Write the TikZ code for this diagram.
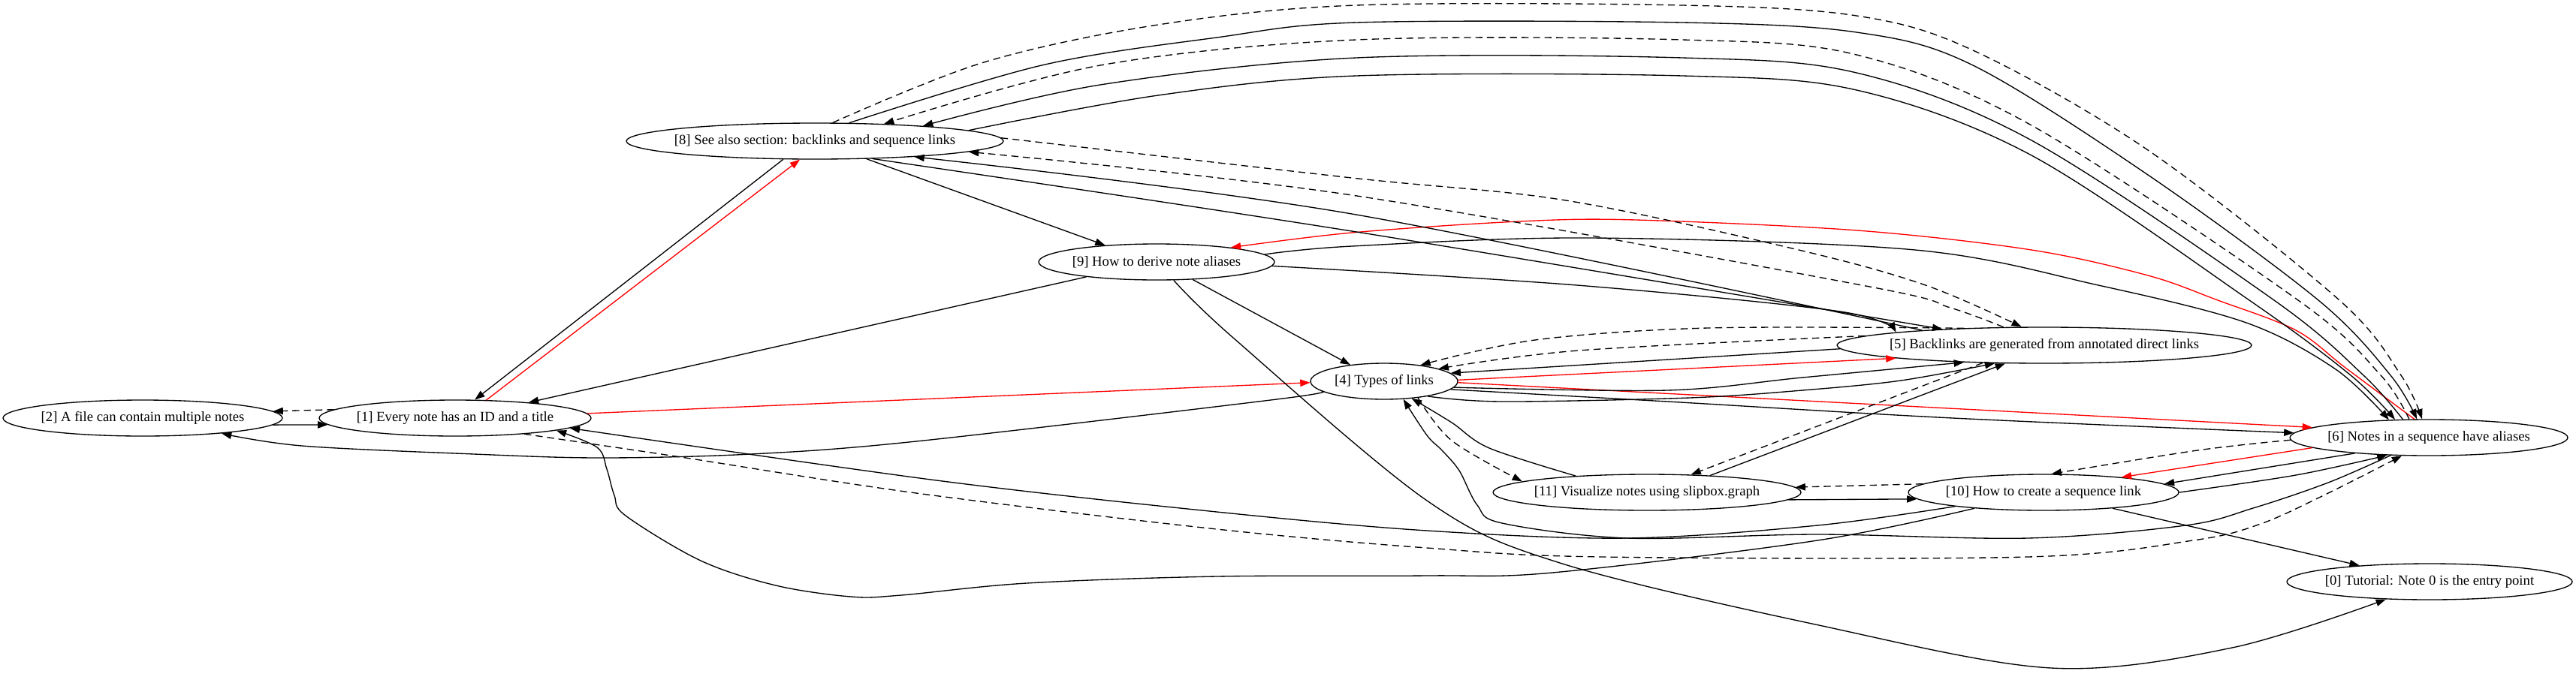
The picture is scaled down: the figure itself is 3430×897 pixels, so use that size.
\documentclass[tikz,border=0pt]{standalone}
\usepackage{fontspec}
\setmainfont{Liberation Serif}
\usetikzlibrary{arrows.meta,shapes.geometric}
\begin{document}
\begin{tikzpicture}[x=0.75pt,y=-0.75pt,
 nd/.style={ellipse,draw,line width=1pt,inner sep=0pt,minimum height=36pt,font=\fontsize{14pt}{16pt}\selectfont},
 ed/.style={line width=1pt,-{Triangle[length=10pt,width=7pt]}},
 dsh/.style={ed,dash pattern=on 7pt off 4.5pt},
 rd/.style={ed,red}]
\useasboundingbox (0,0) rectangle (3430,897);
% nodes
\node[nd,minimum width=279pt]   (n2)  at (190,557)  {\makebox[0pt]{[2] A file can contain multiple notes}};
\node[nd,minimum width=271.5pt] (n1)  at (606,557)  {\makebox[0pt]{[1] Every note has an ID and a title}};
\node[nd,minimum width=376.5pt] (n8)  at (1085,188) {\makebox[0pt]{[8] See also section: backlinks and sequence links}};
\node[nd,minimum width=235.5pt] (n9)  at (1540,349) {\makebox[0pt]{[9] How to derive note aliases}};
\node[nd,minimum width=147pt]   (n4)  at (1843,508) {\makebox[0pt]{[4] Types of links}};
\node[nd,minimum width=414pt]   (n5)  at (2722,460) {\makebox[0pt]{[5] Backlinks are generated from annotated direct links}};
\node[nd,minimum width=307.5pt] (n11) at (2193,656) {\makebox[0pt]{[11] Visualize notes using slipbox.graph}};
\node[nd,minimum width=270pt]   (n10) at (2721,656) {\makebox[0pt]{[10] How to create a sequence link}};
\node[nd,minimum width=277.5pt] (n6)  at (3234,583) {\makebox[0pt]{[6] Notes in a sequence have aliases}};
\node[nd,minimum width=285pt]   (n0)  at (3235,775) {\makebox[0pt]{[0] Tutorial: Note 0 is the entry point}};
% straight edges
\draw[ed]  (n2.357) -- (n1.183.1);
\draw[dsh] (n1.176.9) -- (n2.3);
\draw[rd]  (n1.2.3) -- (n4.181.8);
\draw[rd]  (n1.30.3) -- (n8.231.5);
\draw[ed]  (n8.210.6) -- (n1.43.5);
\draw[ed]  (n9.192.3) -- (n1.12.1);
\draw[ed]  (n8.341.5) -- (n9.162.1);
\draw[ed]  (n9.334.5) -- (n4.154.7);
\draw[ed]  (n10.347.4) -- (n0.167.8);
\draw[ed]  (n11.357.3) -- (n10.183.1);
\draw[dsh] (n10.176.9) -- (n11.2.7);
\draw[ed]  (n6.192.4) -- (n10.4.1);
\draw[rd]  (n6.185) -- (n10.11.1);
\draw[rd]  (n4.359) -- (n6.175.8);
\draw[rd]  (n4.1) -- (n5.185);
\draw[ed]  (n5.181.5) -- (n4.7.2);
\draw[ed]  (n11.15.6) -- (n5.205.3);
\draw[dsh] (n5.196.2) -- (n11.22);
% curved edges
\draw[ed] plot[smooth,tension=.55] coordinates {(n4.189.9) (1700,532) (1220,588) (1000,605) (800,610) (631,605) (402,594) (n2.349)};
\draw[ed] plot[smooth,tension=.55] coordinates {(n10.189.3) (2420,700) (2167,717) (1900,707) (1620,682) (1247,640) (n1.355.5)};
\draw[ed] plot[smooth,tension=.55] coordinates {(n10.193.4) (2420,720) (2067,763) (1900,767) (1620,768) (1367,777) (1200,793) (1133,795) (1033,780) (933,747) (833,687) (818,660) (808,625) (795,596) (n1.353.5)};
\draw[dsh] plot[smooth,tension=.55] coordinates {(n1.347.2) (900,608) (1220,657) (1620,705) (1900,730) (2133,742) (2700,742) (2920,720) (3010,698) (3100,657) (n6.214.8)};
\draw[rd] plot[smooth,tension=.55] coordinates {(n6.128.5) (3123,490) (3057,440) (2953,400) (2860,367) (2705,333) (2473,307) (2178,293) (2023,295) (1800,310) (n9.11.4)};
\draw[ed] plot[smooth,tension=.55] coordinates {(n9.4.4) (1800,328) (2116,317) (2550,333) (2794,380) (2991,430) (3110,492) (n6.156.1)};
\draw[ed] plot[smooth,tension=.55] coordinates {(n9.358) (2100,380) (2450,415) (n5.175)};
\draw[ed] plot[smooth,tension=.55] coordinates {(n9.313.5) (1642,450) (1900,667) (2077,750) (2422,833) (2731,890) (2972,863) (n0.202.7)};
\draw[dsh] plot[smooth,tension=.55] coordinates {(n4.334.1) (1933,587) (n11.175.1)};
\draw[ed] plot[smooth,tension=.55] coordinates {(n11.167) (1983,597) (1933,563) (n4.328.2)};
\draw[ed] plot[smooth,tension=.55] coordinates {(n6.205.2) (3100,643) (3000,677) (2910,700) (2700,717) (2420,712) (2167,717) (2000,697) (1967,673) (1943,627) (1920,600) (1900,580) (n4.317.1)};
\draw[ed] plot[smooth,tension=.55] coordinates {(n10.0) (3057,633) (n6.203)};
\draw[dsh] plot[smooth,tension=.55] coordinates {(n6.181) (2926,600) (n10.67.9)};
\draw[ed] plot[smooth,tension=.55] coordinates {(n4.353) (2220,535) (2600,557) (n6.178.4)};
\draw[dsh] plot[smooth,tension=.55] coordinates {(n5.177.7) (2102,467) (n4.13.5)};
\draw[dsh] plot[smooth,tension=.55] coordinates {(n5.168.7) (2274,437) (2044,453) (n4.24.1)};
\draw[ed] plot[smooth,tension=.55] coordinates {(n4.355.5) (2220,520) (2400,503) (n5.192.7)};
\draw[ed] plot[smooth,tension=.55] coordinates {(n4.341.6) (2000,535) (2250,530) (2400,520) (2531,507) (n5.200.7)};
\draw[ed] plot[smooth,tension=.55] coordinates {(n8.343.5) (1800,308) (n5.171.2)};
\draw[ed] plot[smooth,tension=.55] coordinates {(n5.173.5) (1800,285) (n8.351.6)};
\draw[dsh] plot[smooth,tension=.55] coordinates {(n5.156) (2597,410) (2479,380) (1800,260) (n8.356.5)};
\draw[dsh] plot[smooth,tension=.55] coordinates {(n8.1) (1800,237) (2085,267) (2395,333) (2564,380) (n5.141.5)};
% arcs between 8 and 6
\draw[dsh] plot[smooth,tension=.55] coordinates {(n8.46.1) (1310,83) (1542,33) (1806,7) (2240,7) (2472,21) (2627,67) (2860,200) (3115,400) (3197,500) (n6.110.6)};
\draw[ed] plot[smooth,tension=.55] coordinates {(n8.28.8) (1387,87) (1620,50) (1806,30) (2240,30) (2472,43) (2627,87) (2860,233) (3087,400) (3183,500) (n6.123.8)};
\draw[dsh] plot[smooth,tension=.55] coordinates {(n6.137.6) (3170,500) (3060,400) (2705,167) (2472,73) (2240,53) (1806,53) (1465,87) (n8.14.9)};
\draw[ed] plot[smooth,tension=.55] coordinates {(n6.145.2) (3147,500) (3028,400) (2705,187) (2472,97) (2240,77) (1806,77) (1465,113) (n8.8.2)};
\draw[ed] plot[smooth,tension=.55] coordinates {(n8.4.1) (1542,127) (1806,101) (2240,101) (2472,120) (2705,207) (2995,400) (3130,500) (n6.152.1)};
\end{tikzpicture}
\end{document}
